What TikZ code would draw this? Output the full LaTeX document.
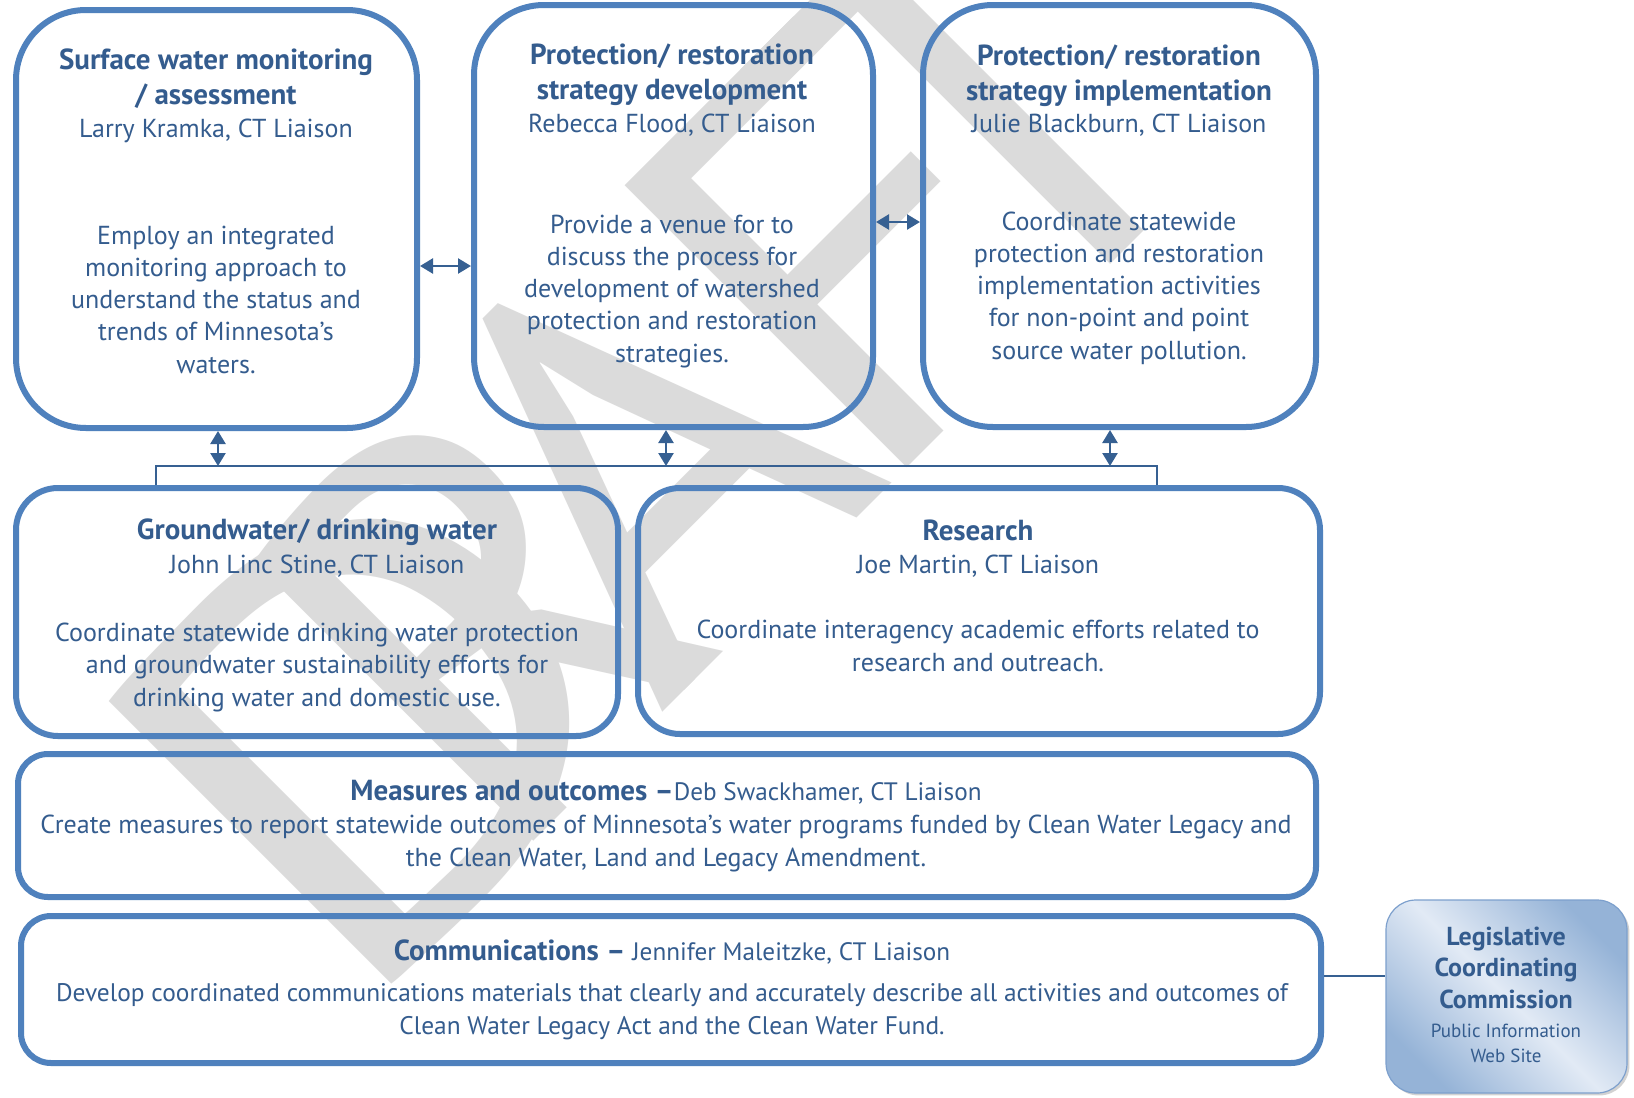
\documentclass[tikz,border=0pt]{standalone}
\usepackage{graphicx}
\usepackage{fontspec}
\setmainfont{PT Sans}
\newfontfamily\wmfont{PT Sans}
\usetikzlibrary{arrows.meta,shadows}
\definecolor{bordc}{RGB}{79,129,189}
\definecolor{txtc}{RGB}{52,92,142}
\definecolor{arrc}{RGB}{54,96,146}
\definecolor{wmc}{RGB}{219,219,219}
\definecolor{legA}{RGB}{149,179,215}
\definecolor{legB}{RGB}{226,234,245}
\definecolor{legD}{RGB}{125,160,205}
\tikzset{
  box/.style={draw=bordc, line width=3pt, rounded corners=#1, inner sep=0pt},
  body/.style={text=txtc, align=center, inner sep=0pt, anchor=base, font=\fontsize{13}{16.1}\selectfont},
  ttl/.style={text=txtc, align=center, inner sep=0pt, anchor=base, font=\bfseries\fontsize{14.5}{17.5}\selectfont},
  dbl/.style={draw=arrc, line width=1.25pt, {Triangle[length=6.5pt,width=7.5pt]}-{Triangle[length=6.5pt,width=7.5pt]}},
  link/.style={draw=arrc, line width=1pt},
  wm/.style={text=wmc, inner sep=0pt, font=\wmfont\fontsize{285}{285}\selectfont},
}
\begin{document}
\begin{tikzpicture}[x=0.5pt, y=-0.5pt]
\useasboundingbox (0,0) rectangle (1634,1098);
\fill[white] (0,0) rectangle (1634,1098);
% watermark
\begin{scope}
\clip (0,0) rectangle (1634,1098);
\node[wm, anchor=base west, rotate=45] (draft) at (348,1027)
  {\makebox[0.375em][l]{\scalebox{1.25}[1]{D}}\makebox[0.396em][l]{R}\makebox[0.523em][l]{A}\makebox[0.362em][l]{\scalebox{1.1}[1]{F}}T};
\end{scope}
% boxes
\node[box=35pt, minimum width=200.5pt, minimum height=209pt] (b1) at (216.5,219) {};
\node[box=35pt, minimum width=199.5pt, minimum height=211pt] (b2) at (673.5,216) {};
\node[box=35pt, minimum width=196.5pt, minimum height=211pt] (b3) at (1119.5,216) {};
\node[box=21pt, minimum width=301pt, minimum height=124pt] (b4) at (317,612) {};
\node[box=21pt, minimum width=341pt, minimum height=123pt] (b5) at (979,611) {};
\node[box=15pt, minimum width=649pt, minimum height=71.5pt] (b6) at (667,825.5) {};
\node[box=15pt, minimum width=650pt, minimum height=73.5pt] (b7) at (671,989.5) {};
\node[draw=legD, line width=0.6pt, rounded corners=15pt, top color=legA, bottom color=legA, middle color=legB, shading angle=-45, minimum width=120.5pt, minimum height=96.5pt, inner sep=0pt, drop shadow={shadow xshift=1.2pt, shadow yshift=-1.2pt, opacity=0.35}] (b8) at (1506.5,996.5) {};
% texts box 1
\node[ttl] (t1) at (216,104) {Surface water monitoring\\/ assessment};
\node[body] (l1) at (216,137) {Larry Kramka, CT Liaison};
\node[body] (d1) at (216,373) {Employ an integrated\\monitoring approach to\\understand the status and\\trends of Minnesota’s\\waters.};
% box 2
\node[ttl] (t2) at (672,99) {Protection/ restoration\\strategy development};
\node[body] (l2) at (672,132) {Rebecca Flood, CT Liaison};
\node[body] (d2) at (672,362) {Provide a venue for to\\discuss the process for\\development of watershed\\protection and restoration\\strategies.};
% box 3
\node[ttl] (t3) at (1119,100) {Protection/ restoration\\strategy implementation};
\node[body] (l3) at (1119,132) {Julie Blackburn, CT Liaison};
\node[body] (d3) at (1119,359) {Coordinate statewide\\protection and restoration\\implementation activities\\for non-point and point\\source water pollution.};
% box 4
\node[ttl] (t4) at (317,539) {Groundwater/ drinking water};
\node[body] (l4) at (317,573) {John Linc Stine, CT Liaison};
\node[body] (d4) at (317,706) {Coordinate statewide drinking water protection\\and groundwater sustainability efforts for\\drinking water and domestic use.};
% box 5
\node[ttl] (t5) at (978,540) {Research};
\node[body] (l5) at (978,573) {Joe Martin, CT Liaison};
\node[body] (d5) at (978,671) {Coordinate interagency academic efforts related to\\research and outreach.};
% box 6
\node[body] (t6) at (666,800) {{\bfseries\fontsize{14.5}{17.5}\selectfont Measures and outcomes –}{\fontsize{12.6}{16}\selectfont Deb Swackhamer, CT Liaison}};
\node[body] (d6) at (666,866) {Create measures to report statewide outcomes of Minnesota’s water programs funded by Clean Water Legacy and\\the Clean Water, Land and Legacy Amendment.};
% box 7
\node[body] (t7) at (672,960) {{\bfseries\fontsize{14.5}{17.5}\selectfont Communications –} {\fontsize{12.6}{16}\selectfont Jennifer Maleitzke, CT Liaison}};
\node[body, font=\fontsize{12.7}{16.1}\selectfont] (d7) at (672,1034) {Develop coordinated communications materials that clearly and accurately describe all activities and outcomes of\\Clean Water Legacy Act and the Clean Water Fund.};
% box 8
\node[body, font=\bfseries\fontsize{13}{15.75}\selectfont] (t8) at (1506,1008) {Legislative\\Coordinating\\Commission};
\node[body, font=\fontsize{9.5}{12.5}\selectfont] (d8) at (1506,1062) {Public Information\\Web Site};
% connectors
\coordinate (y12) at (0,266);
\coordinate (y23) at (0,222);
\draw[dbl] (b1.east |- y12) -- (b2.west |- y12);
\draw[dbl] (b2.east |- y23) -- (b3.west |- y23);
\coordinate (cl) at (156,466);
\coordinate (cr) at (1157,466);
\coordinate (a1) at (218,466);
\coordinate (a2) at (666,466);
\coordinate (a3) at (1110,466);
\draw[link] (cl |- b4.north) -- (cl) -- (cr) -- (cr |- b5.north);
\draw[dbl] (a1 |- b1.south) -- (a1);
\draw[dbl] (a2 |- b2.south) -- (a2);
\draw[dbl] (a3 |- b3.south) -- (a3);
\coordinate (y78) at (0,976);
\draw[link] (b7.east |- y78) -- (b8.west |- y78);
\end{tikzpicture}
\end{document}
